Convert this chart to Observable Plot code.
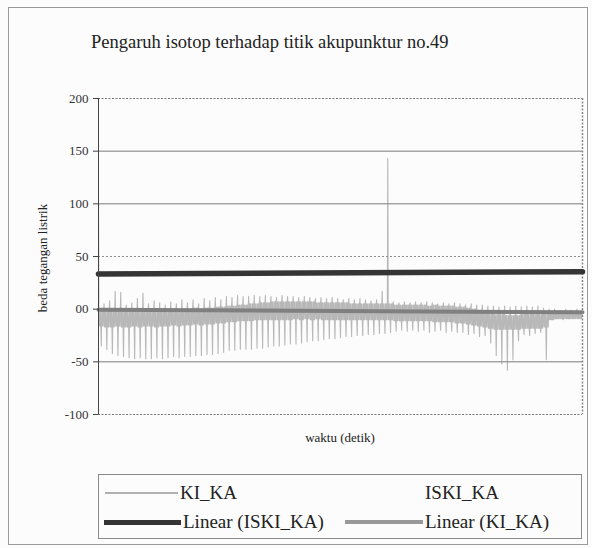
<!DOCTYPE html>
<html>
<head>
<meta charset="utf-8">
<script src="https://cdn.jsdelivr.net/npm/d3@7"></script>
<script src="https://cdn.jsdelivr.net/npm/@observablehq/plot@0.6"></script>
<style>
  html, body { margin: 0; padding: 0; background: #fcfcfc; }
  #wrap { position: relative; width: 592px; height: 548px; overflow: hidden; font-family: "Liberation Serif", "Times New Roman", serif; color: #222; }
  #wrap svg { position: absolute; left: 0; top: 0; }
  .abs { position: absolute; white-space: nowrap; }
</style>
</head>
<body>
<div id="wrap"></div>
<script>
// ---- data ----
const title = "Pengaruh isotop terhadap titik akupunktur no.49";
const yLabel = "beda tegangan listrik";
const xLabel = "waktu (detik)";
const yTicks = [-100, -50, 0, 50, 100, 150, 200];
const yTickLabels = ["-100", "-50", "00", "50", "100", "150", "200"];

// KI_KA: per oscillation cycle — upward peak, downward trough, and dense band limits
const kiPeak = [100,5,8,17,16,4,6,10,15,5,8,6,4,7,5,9,6,9,5,10,8,11,9,
  12,11,13,12,12,13,12,13,12,11,13,12,12,11,12,11,10,11,10,11,10,9,10,9,10,9,8,9,17,
  143,
  7,6,7,6,7,6,7,6,5,6,5,6,5,4,5,4,4,
  3,3,2,3,2,3,2,3,2,3,1,0,0,-1,0,-1,0];
const kiTrough = [-35,-38,-42,-44,-45,-46,-47,-46,-47,-47,-46,-47,-46,-45,-46,-45,-45,-44,-44,-43,-43,-42,-41,
  -39,-39,-38,-38,-38,-37,-37,-36,-35,-35,-34,-33,-33,-32,-31,-30,-30,-29,-28,-28,-27,-26,-26,-25,-25,-24,-24,-23,
  -23,-22,
  -21,-20,-21,-20,-21,-20,-22,-21,-20,-22,-21,-22,
  -22,-24,-23,-26,-25,-32,-44,-52,-58,-48,-30,-24,-25,-23,-22,-48,
  -10,-9,-10,-9,-8,-8];
const kiBandHi = [-2,-2,-1,-2,-1,-2,-1,-2,-1,-1,-2,-1,-1,0,-1,0,0,1,0,1,1,2,2,
  3,3,4,4,5,5,6,6,7,7,7,7,7,7,7,7,6,6,6,6,6,6,5,5,5,5,5,5,5,5,
  4,4,4,4,4,4,3,4,3,3,3,2,2,1,0,-1,-2,
  -4,-5,-5,-6,-6,-6,-5,-5,-5,-5,-5,
  -3,-2,-2,-2,-2,-2];
const kiBandLo = [-16,-17,-17,-16,-17,-17,-16,-17,-16,-16,-17,-16,-16,-15,-16,-15,-15,-14,-15,-14,-14,-13,-13,
  -12,-12,-11,-11,-11,-10,-10,-10,-10,-10,-10,-10,-9,-10,-9,-10,-9,-10,-10,-10,-10,-10,-10,-10,-10,-10,-10,-10,-10,-10,
  -11,-11,-11,-11,-11,-11,-11,-12,-12,-12,-12,-13,-13,-14,-15,-16,-17,
  -18,-19,-19,-19,-19,-19,-18,-18,-18,-18,-17,
  -10,-9,-9,-9,-9,-9];

// trend lines (start, end)
const trendISKI = [33.5, 35.5];
const trendKI = [-0.5, -3];

const seriesNames = ["KI_KA", "ISKI_KA", "Linear (ISKI_KA)", "Linear (KI_KA)"];

// ---- build tables ----
const perCycle = 12;
const ki = [];
kiPeak.forEach((p, i) => {
  const lo = kiBandLo[i], hi = kiBandHi[i], t = kiTrough[i];
  [p, lo, hi, lo, hi, lo, t, hi, lo, hi, lo, hi].forEach((v, k) => ki.push({x: i * perCycle + k, y: v}));
});
const xMax = kiPeak.length * perCycle;
const trendA = [{x: 0, y: trendISKI[0]}, {x: xMax, y: trendISKI[1]}];
const trendB = [{x: 0, y: trendKI[0]}, {x: xMax, y: trendKI[1]}];

const chart = Plot.plot({
  width: 592,
  height: 548,
  marginLeft: 98,
  marginRight: 10,
  marginTop: 98,
  marginBottom: 134,
  x: {domain: [0, xMax], axis: null},
  y: {domain: [-100, 200], axis: null},
  style: {fontFamily: "Liberation Serif, serif", background: "transparent", color: "#333"},
  marks: [
    Plot.ruleY([150, 100, -50], {stroke: "#7a7a7a", strokeWidth: 1}),
    Plot.ruleY([50], {stroke: "#8a8a8a", strokeWidth: 1, strokeDasharray: "2,2"}),
    Plot.ruleY([200, -100], {stroke: "#777", strokeWidth: 1.2, strokeDasharray: "2,1.5"}),
    Plot.ruleX([xMax], {stroke: "#888", strokeWidth: 1.5, strokeDasharray: "2,1.5"}),
    Plot.line(ki, {x: "x", y: "y", stroke: "#8a8a8a", strokeWidth: 1.1, strokeOpacity: 0.6}),
    Plot.line(trendA, {x: "x", y: "y", stroke: "#353535", strokeWidth: 5.5}),
    Plot.line(trendB, {x: "x", y: "y", stroke: "#808080", strokeWidth: 4}),
    Plot.ruleX([0], {stroke: "#444", strokeWidth: 1}),
    Plot.axisY({ticks: yTicks, tickFormat: d => yTickLabels[yTicks.indexOf(d)], tickSize: 5, tickPadding: 5, fontSize: 13, label: null, stroke: "#444"})
  ]
});

const wrap = document.getElementById("wrap");
wrap.appendChild(chart);

function addDiv(text, css) {
  const d = document.createElement("div");
  d.className = "abs";
  d.textContent = text;
  Object.assign(d.style, css);
  wrap.appendChild(d);
  return d;
}
// outer frame
const frame = document.createElement("div");
Object.assign(frame.style, {position: "absolute", left: "8px", top: "7px", width: "578px", height: "536px", border: "1px solid #9a9a9a"});
wrap.appendChild(frame);

addDiv(title, {left: "91px", top: "33px", fontSize: "18.5px", lineHeight: "18px"});
addDiv(yLabel, {left: "42px", top: "258px", fontSize: "13px", lineHeight: "13px", transform: "translate(-50%,-50%) rotate(-90deg)"});
addDiv(xLabel, {left: "340px", top: "437px", fontSize: "13px", lineHeight: "13px", transform: "translate(-50%,-50%)"});

// legend
const lg = document.createElement("div");
Object.assign(lg.style, {position: "absolute", left: "98px", top: "474px", width: "482px", height: "63px", border: "1px solid #8a8a8a"});
wrap.appendChild(lg);
function swatch(x1, x2, y, color, w) {
  const s = document.createElement("div");
  Object.assign(s.style, {position: "absolute", left: x1 + "px", top: (y - w / 2) + "px", width: (x2 - x1) + "px", height: w + "px", background: color});
  wrap.appendChild(s);
}
swatch(105, 178, 493, "#b0b0b0", 1.5);
swatch(104, 181, 522, "#353535", 5);
swatch(345, 423, 522, "#999", 4);
addDiv(seriesNames[0], {left: "180px", top: (493 - 10) + "px", fontSize: "19px", lineHeight: "19px"});
addDiv(seriesNames[1], {left: "425px", top: (493 - 10) + "px", fontSize: "19px", lineHeight: "19px"});
addDiv(seriesNames[2], {left: "183px", top: (522 - 10) + "px", fontSize: "19px", lineHeight: "19px"});
addDiv(seriesNames[3], {left: "425px", top: (522 - 10) + "px", fontSize: "19px", lineHeight: "19px"});
</script>
</body>
</html>
